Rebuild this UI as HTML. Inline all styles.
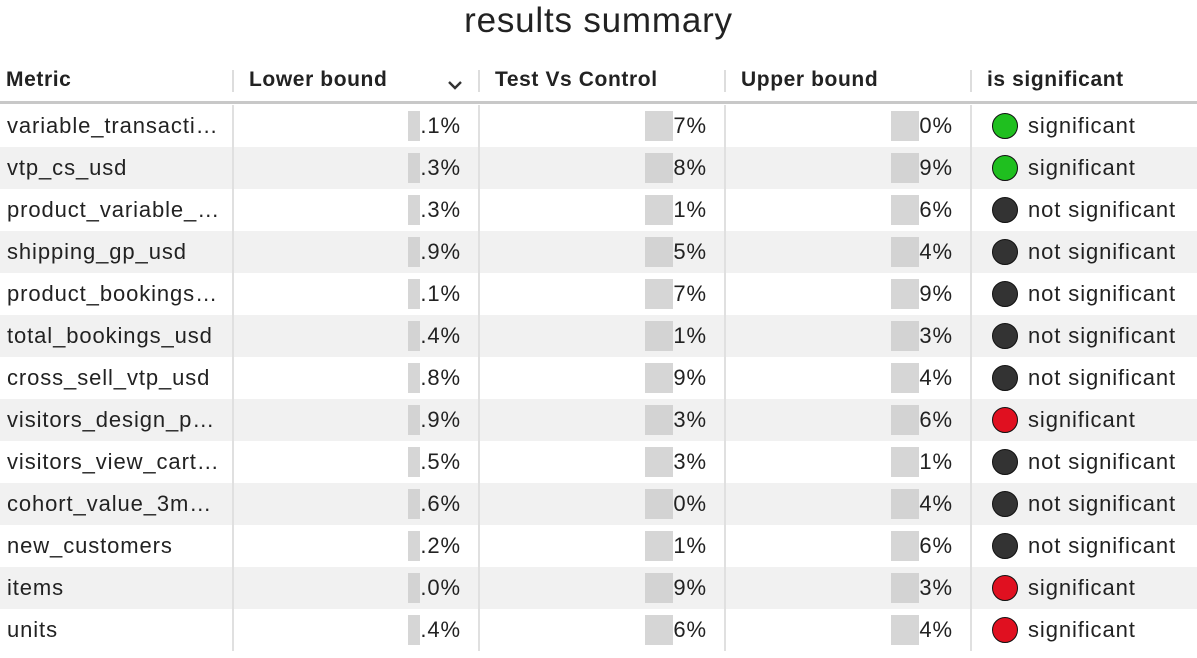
<!DOCTYPE html>
<html><head><meta charset="utf-8"><style>
body{margin:0;width:1197px;height:658px;background:#fff;font-family:"Liberation Sans",sans-serif;color:#222;position:relative;overflow:hidden}
.a{position:absolute;white-space:nowrap}
.t{position:absolute;left:0;width:1197px;top:0;text-align:center;font-size:35px;letter-spacing:0.8px;color:#222;line-height:42px}
.h{font-weight:bold;font-size:21px;letter-spacing:0.6px;top:67px;line-height:26px}
.c{font-size:22px;letter-spacing:0.9px;line-height:26px}
.blur{position:absolute;background:#c8c8c8;opacity:.75}
</style></head><body>
<div class="t">results summary</div>
<div id="tbl"></div>
<script>
const metrics=["variable_transacti…","vtp_cs_usd","product_variable_…","shipping_gp_usd","product_bookings…","total_bookings_usd","cross_sell_vtp_usd","visitors_design_p…","visitors_view_cart…","cohort_value_3m…","new_customers","items","units"];
const lower=[".1%",".3%",".3%",".9%",".1%",".4%",".8%",".9%",".5%",".6%",".2%",".0%",".4%"];
const tvc=["7%","8%","1%","5%","7%","1%","9%","3%","3%","0%","1%","9%","6%"];
const upper=["0%","9%","6%","4%","9%","3%","4%","6%","1%","4%","6%","3%","4%"];
const sig=["green","green","dark","dark","dark","dark","dark","red","dark","dark","dark","red","red"];
const colors={green:"#1fbf1f",dark:"#333333",red:"#e01020"};
const t=document.getElementById('tbl');
function add(html,cls,style,name,inter){const d=document.createElement('div');d.className=cls;d.style.cssText=style;d.innerHTML=html;


t.appendChild(d);return d;}
const heads=[["Metric",6],["Lower bound",249],["Test Vs Control",495],["Upper bound",741],["is significant",987]];
heads.forEach((h,i)=>{add(h[0],'a h','left:'+h[1]+'px','header-'+h[0].toLowerCase().replace(/ /g,'-'),true);});
add('<svg width="16" height="10"><path d="M2 2 L8 8 L14 2" stroke="#333" stroke-width="2.4" fill="none"/></svg>','a','left:447px;top:77px','sort-icon',true);
[232,478,724,970].forEach(x=>{add('','a','left:'+x+'px;top:70px;width:2px;height:22px;background:#ddd','header-separator',false);});
add('','a','left:0;top:101px;width:1197px;height:3px;background:#c8c8c8','header-border',false);
metrics.forEach((m,i)=>{
 const y=105+42*i;
 add('','a','left:0;top:'+y+'px;width:1197px;height:42px;background:'+(i%2?'#f1f1f1':'#fff'),'table-row',false);
 [232,478,724,970].forEach(x=>{add('','a','left:'+x+'px;top:'+y+'px;width:2px;height:42px;background:#e0e0e0','column-separator',false);});
 add(m,'a c','left:7px;top:'+(y+8)+'px','metric-name',false);
 const vals=[[lower[i],461],[tvc[i],707],[upper[i],953]];
 vals.forEach((v,j)=>{
   const el=add(v[0],'a c','right:'+(1197-v[1])+'px;top:'+(y+8)+'px','value-cell',false);
   const w=el.offsetWidth;
   const bw=j==0?12:28;
   add('','blur','left:'+(v[1]-w-bw)+'px;top:'+(y+6)+'px;width:'+bw+'px;height:30px','redacted-value',false);
 });
 add('','a','left:992px;top:'+(y+8)+'px;width:24px;height:24px;border-radius:50%;border:1.5px solid #111;background:'+colors[sig[i]],'significance-dot',false);
 add(sig[i]=='dark'?'not significant':'significant','a c','left:1028px;top:'+(y+8)+'px','significance-label',false);
});
</script>
</body></html>
